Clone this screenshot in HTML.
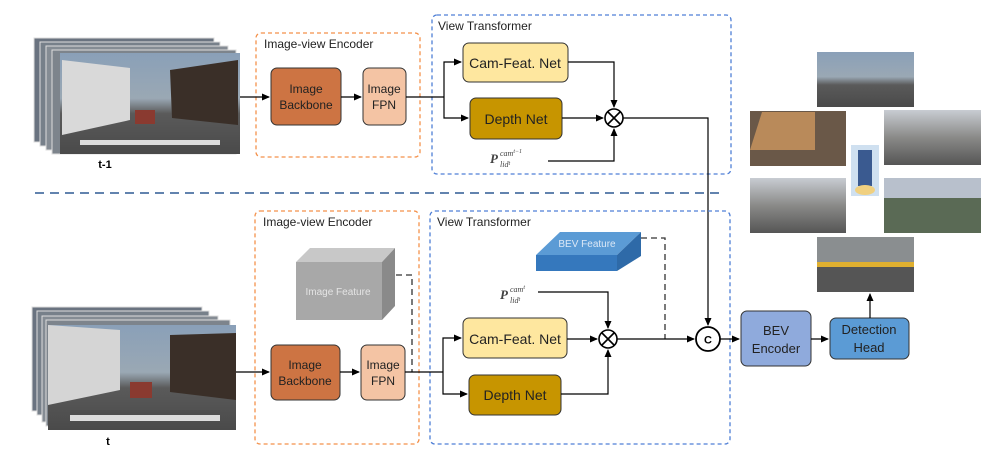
<!DOCTYPE html>
<html><head><meta charset="utf-8"><style>
body{margin:0;background:#fff}
svg{display:block;font-family:"Liberation Sans",sans-serif}
</style></head><body>
<svg width="1000" height="454" viewBox="0 0 1000 454" xmlns="http://www.w3.org/2000/svg">
<defs>
<marker id="ar" markerWidth="8" markerHeight="8" refX="7" refY="4" orient="auto" markerUnits="userSpaceOnUse"><path d="M0,0.5 L8,4 L0,7.5z" fill="#000"/></marker>
<linearGradient id="ph" x1="0" y1="0" x2="0" y2="1">
<stop offset="0" stop-color="#8aa0b8"/><stop offset="0.45" stop-color="#9aa8b4"/><stop offset="0.6" stop-color="#5a5a5a"/><stop offset="1" stop-color="#4a4a4a"/></linearGradient>
<linearGradient id="ph2" x1="0" y1="0" x2="0" y2="1">
<stop offset="0" stop-color="#c8ccd2"/><stop offset="0.5" stop-color="#8a8a88"/><stop offset="1" stop-color="#555"/></linearGradient>
</defs>

<!-- top image stack -->
<g>
<rect x="34" y="38" width="180" height="104" fill="#6a7380" stroke="#ddd"/>
<rect x="40" y="42" width="180" height="104" fill="#77808a" stroke="#ddd"/>
<rect x="46" y="46" width="182" height="104" fill="#858c94" stroke="#ddd"/>
<rect x="52" y="50" width="184" height="104" fill="#7d848c" stroke="#ddd"/>
<rect x="60" y="53" width="180" height="101" fill="url(#ph)"/>
<polygon points="62,60 130,68 130,120 62,135" fill="#d9d9d9"/>
<polygon points="170,70 238,60 238,125 172,118" fill="#3a2f28"/>
<rect x="135" y="110" width="20" height="14" fill="#8a3a30"/>
<rect x="80" y="140" width="140" height="5" fill="#ddd"/>
<text x="105" y="168" font-size="11" font-weight="bold" text-anchor="middle">t-1</text>
</g>

<!-- bottom image stack -->
<g>
<rect x="32" y="307" width="170" height="104" fill="#6a7380" stroke="#ddd"/>
<rect x="37" y="311" width="172" height="104" fill="#77808a" stroke="#ddd"/>
<rect x="42" y="316" width="176" height="106" fill="#858c94" stroke="#ddd"/>
<rect x="46" y="320" width="184" height="106" fill="#7d848c" stroke="#ddd"/>
<rect x="48" y="325" width="188" height="105" fill="url(#ph)"/>
<polygon points="48,325 120,330 120,390 48,405" fill="#d5d5d5"/>
<polygon points="170,335 236,333 236,400 170,392" fill="#3a2f28"/>
<rect x="130" y="382" width="22" height="16" fill="#8a3a30"/>
<rect x="70" y="415" width="150" height="6" fill="#ddd"/>
<text x="108" y="445" font-size="11" font-weight="bold" text-anchor="middle">t</text>
</g>

<!-- top section -->
<rect x="256" y="33" width="164" height="124" rx="5" fill="none" stroke="#f4914b" stroke-width="1.3" stroke-dasharray="4,3"/>
<text x="264" y="48" font-size="12" fill="#222">Image-view Encoder</text>
<rect x="432" y="15" width="299" height="159" rx="5" fill="none" stroke="#4f7fd6" stroke-width="1.3" stroke-dasharray="4,3"/>
<text x="438" y="30" font-size="12" fill="#222">View Transformer</text>

<line x1="240" y1="97" x2="269" y2="97" stroke="#000" stroke-width="1.2" marker-end="url(#ar)"/>
<rect x="271" y="68" width="70" height="57" rx="6" fill="#cd7443" stroke="#333"/>
<text x="306" y="93" font-size="12" text-anchor="middle" fill="#222">Image</text>
<text x="306" y="109" font-size="12" text-anchor="middle" fill="#222">Backbone</text>
<line x1="341" y1="97" x2="361" y2="97" stroke="#000" stroke-width="1.2" marker-end="url(#ar)"/>
<rect x="363" y="68" width="43" height="57" rx="6" fill="#f4c4a4" stroke="#333"/>
<text x="384" y="93" font-size="12" text-anchor="middle" fill="#222">Image</text>
<text x="384" y="109" font-size="12" text-anchor="middle" fill="#222">FPN</text>
<polyline points="406,97 444,97" fill="none" stroke="#000" stroke-width="1.2"/>
<polyline points="444,97 444,62 461,62" fill="none" stroke="#000" stroke-width="1.2" marker-end="url(#ar)"/>
<polyline points="444,97 444,118 468,118" fill="none" stroke="#000" stroke-width="1.2" marker-end="url(#ar)"/>
<rect x="463" y="43" width="105" height="39" rx="6" fill="#fee79f" stroke="#333"/>
<text x="515" y="68" font-size="14" text-anchor="middle" fill="#222">Cam-Feat. Net</text>
<rect x="470" y="98" width="92" height="41" rx="6" fill="#c79500" stroke="#333"/>
<text x="516" y="124" font-size="14" text-anchor="middle" fill="#222">Depth Net</text>
<polyline points="568,62 614,62 614,107" fill="none" stroke="#000" stroke-width="1.2" marker-end="url(#ar)"/>
<line x1="562" y1="118" x2="603" y2="118" stroke="#000" stroke-width="1.2" marker-end="url(#ar)"/>
<polyline points="548,161 614,161 614,129" fill="none" stroke="#000" stroke-width="1.2" marker-end="url(#ar)"/>
<circle cx="614" cy="118" r="9" fill="#fff" stroke="#000" stroke-width="1.6"/>
<path d="M608,112 L620,124 M620,112 L608,124" stroke="#000" stroke-width="1.6"/>
<text x="490" y="163" font-family="Liberation Serif,serif" font-style="italic" font-weight="bold" font-size="13" fill="#444">P</text>
<text x="500" y="156" font-family="Liberation Serif,serif" font-style="italic" font-size="8" fill="#444">cam<tspan font-size="6" dy="-3">t−1</tspan></text>
<text x="500" y="167" font-family="Liberation Serif,serif" font-style="italic" font-size="8" fill="#444">lid<tspan font-size="6" dy="-2">t</tspan></text>
<polyline points="623,118 708,118 708,325" fill="none" stroke="#000" stroke-width="1.2" marker-end="url(#ar)"/>

<!-- separator -->
<line x1="35" y1="193" x2="725" y2="193" stroke="#2e5a93" stroke-width="1.6" stroke-dasharray="9,6"/>

<!-- bottom section -->
<rect x="255" y="211" width="164" height="233" rx="5" fill="none" stroke="#f4914b" stroke-width="1.3" stroke-dasharray="4,3"/>
<text x="263" y="226" font-size="12" fill="#222">Image-view Encoder</text>
<rect x="430" y="211" width="300" height="233" rx="5" fill="none" stroke="#4f7fd6" stroke-width="1.3" stroke-dasharray="4,3"/>
<text x="437" y="226" font-size="12" fill="#222">View Transformer</text>

<!-- image feature cube -->
<polygon points="296,262 310,248 395,248 382,262" fill="#c8c8c8"/>
<polygon points="382,262 395,248 395,306 382,320" fill="#8a8a8a"/>
<rect x="296" y="262" width="86" height="58" fill="#a8a8a8"/>
<text x="338" y="295" font-size="10" text-anchor="middle" fill="#e4e4e4">Image Feature</text>
<polyline points="396,275 412,275 412,372" fill="none" stroke="#333" stroke-width="1.3" stroke-dasharray="6,4"/>

<!-- BEV feature slab -->
<polygon points="536,255 560,232 641,232 617,255" fill="#5b9bd5"/>
<polygon points="617,255 641,232 641,256 617,271" fill="#2e6aa8"/>
<rect x="536" y="255" width="81" height="16" fill="#3578bd"/>
<text x="587" y="247" font-size="10" text-anchor="middle" fill="#dce8f6">BEV Feature</text>
<polyline points="641,238 665,238 665,339" fill="none" stroke="#333" stroke-width="1.3" stroke-dasharray="6,4"/>

<line x1="236" y1="372" x2="269" y2="372" stroke="#000" stroke-width="1.2" marker-end="url(#ar)"/>
<rect x="271" y="345" width="69" height="55" rx="6" fill="#cd7443" stroke="#333"/>
<text x="305" y="369" font-size="12" text-anchor="middle" fill="#222">Image</text>
<text x="305" y="385" font-size="12" text-anchor="middle" fill="#222">Backbone</text>
<line x1="340" y1="372" x2="359" y2="372" stroke="#000" stroke-width="1.2" marker-end="url(#ar)"/>
<rect x="361" y="345" width="44" height="55" rx="6" fill="#f4c4a4" stroke="#333"/>
<text x="383" y="369" font-size="12" text-anchor="middle" fill="#222">Image</text>
<text x="383" y="385" font-size="12" text-anchor="middle" fill="#222">FPN</text>
<polyline points="405,372 443,372" fill="none" stroke="#000" stroke-width="1.2"/>
<polyline points="443,372 443,338 461,338" fill="none" stroke="#000" stroke-width="1.2" marker-end="url(#ar)"/>
<polyline points="443,372 443,394 467,394" fill="none" stroke="#000" stroke-width="1.2" marker-end="url(#ar)"/>
<rect x="463" y="318" width="104" height="40" rx="6" fill="#fee79f" stroke="#333"/>
<text x="515" y="344" font-size="14" text-anchor="middle" fill="#222">Cam-Feat. Net</text>
<rect x="469" y="375" width="92" height="40" rx="6" fill="#c79500" stroke="#333"/>
<text x="515" y="400" font-size="14" text-anchor="middle" fill="#222">Depth Net</text>
<line x1="567" y1="339" x2="597" y2="339" stroke="#000" stroke-width="1.2" marker-end="url(#ar)"/>
<polyline points="561,394 608,394 608,350" fill="none" stroke="#000" stroke-width="1.2" marker-end="url(#ar)"/>
<polyline points="538,292 608,292 608,328" fill="none" stroke="#000" stroke-width="1.2" marker-end="url(#ar)"/>
<circle cx="608" cy="339" r="9" fill="#fff" stroke="#000" stroke-width="1.6"/>
<path d="M602,333 L614,345 M614,333 L602,345" stroke="#000" stroke-width="1.6"/>
<text x="500" y="299" font-family="Liberation Serif,serif" font-style="italic" font-weight="bold" font-size="13" fill="#444">P</text>
<text x="510" y="292" font-family="Liberation Serif,serif" font-style="italic" font-size="8" fill="#444">cam<tspan font-size="6" dy="-3">t</tspan></text>
<text x="510" y="303" font-family="Liberation Serif,serif" font-style="italic" font-size="8" fill="#444">lid<tspan font-size="6" dy="-2">t</tspan></text>
<line x1="617" y1="339" x2="694" y2="339" stroke="#000" stroke-width="1.2" marker-end="url(#ar)"/>
<circle cx="708" cy="339" r="12" fill="#fff" stroke="#000" stroke-width="1.8"/>
<text x="708" y="343.5" font-size="11" font-weight="bold" text-anchor="middle">C</text>
<line x1="720" y1="339" x2="739" y2="339" stroke="#000" stroke-width="1.2" marker-end="url(#ar)"/>
<rect x="741" y="311" width="70" height="55" rx="6" fill="#8faadc" stroke="#333"/>
<text x="776" y="335" font-size="13" text-anchor="middle" fill="#222">BEV</text>
<text x="776" y="353" font-size="13" text-anchor="middle" fill="#222">Encoder</text>
<line x1="811" y1="339" x2="828" y2="339" stroke="#000" stroke-width="1.2" marker-end="url(#ar)"/>
<rect x="830" y="318" width="79" height="41" rx="6" fill="#5b9bd5" stroke="#333"/>
<text x="869" y="334" font-size="13" text-anchor="middle" fill="#222">Detection</text>
<text x="869" y="352" font-size="13" text-anchor="middle" fill="#222">Head</text>
<line x1="870" y1="318" x2="870" y2="294" stroke="#000" stroke-width="1.2" marker-end="url(#ar)"/>

<!-- camera collage -->
<rect x="817" y="52" width="97" height="55" fill="url(#ph)"/>
<rect x="750" y="111" width="96" height="55" fill="#6a5848"/>
<polygon points="762,112 815,112 815,150 750,150" fill="#b98a5a"/>
<rect x="884" y="110" width="97" height="55" fill="url(#ph2)"/>
<rect x="750" y="178" width="96" height="55" fill="url(#ph2)"/>
<rect x="884" y="178" width="97" height="55" fill="#5a6a55"/>
<rect x="884" y="178" width="97" height="20" fill="#b8c0cc"/>
<rect x="817" y="237" width="97" height="55" fill="#555"/>
<rect x="817" y="237" width="97" height="25" fill="#8a8e90"/>
<rect x="817" y="262" width="97" height="5" fill="#e0b030"/>
<rect x="851" y="145" width="28" height="51" fill="#cfe0f0"/>
<rect x="858" y="150" width="14" height="36" fill="#3a5a90"/>
<ellipse cx="865" cy="190" rx="10" ry="5" fill="#f0d080"/>
</svg>
</body></html>
